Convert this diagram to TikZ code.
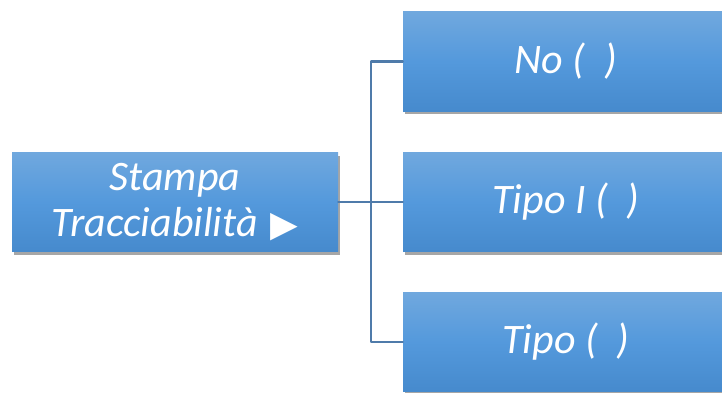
\documentclass[tikz,border=0pt]{standalone}
\usepackage{fontspec}
\setmainfont{Carlito}
\newfontfamily\symfont{DejaVu Sans}
\usetikzlibrary{shadows}
\definecolor{boxtop}{HTML}{70A8DE}
\definecolor{boxmid}{HTML}{5499DC}
\definecolor{boxbot}{HTML}{468ACD}
\definecolor{linkblue}{HTML}{4F7BAA}
\tikzset{
  menubox/.style={minimum width=326pt,minimum height=99pt,inner sep=0pt,
    top color=boxtop,bottom color=boxbot,middle color=boxmid,
    text=white,align=center,font=\fontsize{42}{46}\selectfont\itshape,
    drop shadow={shadow xshift=1.5pt,shadow yshift=-3pt,fill=black,opacity=0.35}},
  link/.style={draw=linkblue,line width=2.2pt}
}

\begin{document}
\begin{tikzpicture}[x=1pt,y=1pt,line cap=round,line join=round]
  \useasboundingbox (0,0) rectangle (722,392);
  \coordinate (fork) at (371,190);
  \node[menubox] (stampa) at (175,190) {Stampa\\Tracciabilità\hspace{0.3em}{\symfont\upshape\fontsize{36}{36}\selectfont ▶}};
  \node[menubox] (no) at (566,330.5) {No (\ \ )};
  \node[menubox] (tipoI) at (566,190) {Tipo I (\ \ )};
  \node[menubox] (tipo) at (566,50) {Tipo (\ \ )};
  \draw[link] (stampa.east) -- (fork);
  \draw[link] (fork) |- (no.west);
  \draw[link] (fork) -- (tipoI.west);
  \draw[link] (fork) |- (tipo.west);
\end{tikzpicture}
\end{document}
